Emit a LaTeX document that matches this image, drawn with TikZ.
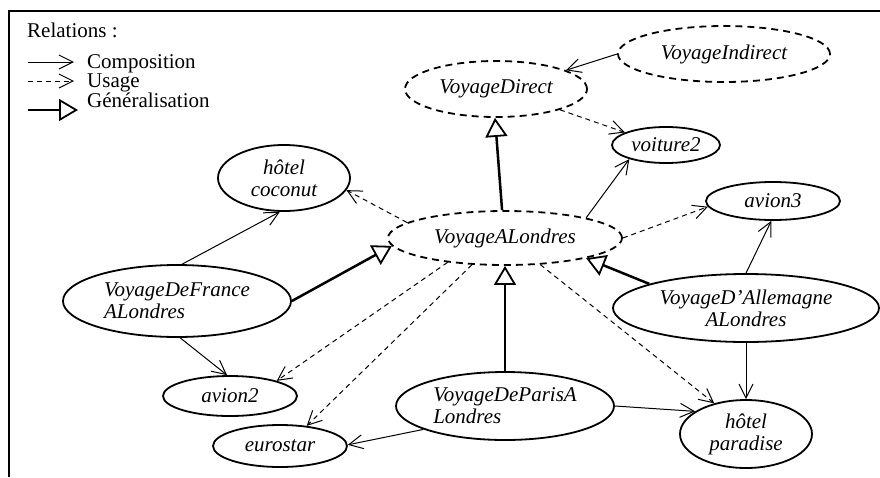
\documentclass[tikz,border=0pt]{standalone}
\usepackage{fontspec}
\setmainfont{Liberation Serif}
\usetikzlibrary{shapes.geometric,arrows.meta}

\begin{document}
\begin{tikzpicture}[x=1pt,y=-1pt,
  font=\fontsize{21}{22}\selectfont,
  obj/.style={ellipse,draw,line width=1.8pt,inner sep=0pt,font=\fontsize{21}{22}\selectfont\itshape},
  abs/.style={obj,dash pattern=on 7pt off 5pt},
  lbl/.style={anchor=base west,inner sep=0pt},
  compo/.style={line width=1pt,-{Straight Barb[length=14pt,width=14pt]}},
  usage/.style={compo,dash pattern=on 5pt off 4pt},
  gene/.style={line width=2.5pt,-{Triangle[open,length=19pt,width=22pt,line width=1.8pt]}}]
\useasboundingbox (0,0) rectangle (880,477);
\draw[line width=1.4pt] (9,477) -- (9,11) -- (880,11);

% legende
\node[lbl] (rel) at (27,37) {Relations :};
\coordinate (c1) at (28,62); \coordinate (c2) at (74,62);
\coordinate (u1) at (28,81); \coordinate (u2) at (74,81);
\coordinate (g1) at (28,110); \coordinate (g2) at (78,110);
\draw[compo] (c1) -- (c2); \draw[usage] (u1) -- (u2); \draw[gene] (g1) -- (g2);
\node[lbl] (lc) at (87,68) {Composition};
\node[lbl] (lu) at (87,87) {Usage};
\node[lbl] (lg) at (87,107) {Généralisation};

% objets
\node[abs,minimum width=212pt,minimum height=56pt] (indirect) at (724,54) {VoyageIndirect};
\node[abs,minimum width=182pt,minimum height=56pt] (direct) at (496,89) {VoyageDirect};
\node[abs,minimum width=234pt,minimum height=54pt] (londres) at (505,238) {VoyageALondres};
\node[obj,minimum width=108pt,minimum height=36pt] (voiture) at (666,145) {voiture2};
\node[obj,minimum width=134pt,minimum height=38pt] (avion3) at (773,201) {avion3};
\node[obj,minimum width=132pt,minimum height=66pt,align=center] (coconut) at (284,178) {hôtel\\coconut};
\node[obj,minimum width=228pt,minimum height=72pt,align=left] (france) at (177,301) {VoyageDeFrance\\ALondres};
\node[obj,minimum width=266pt,minimum height=68pt,align=center] (allemagne) at (746,308) {VoyageD’Allemagne\\ALondres};
\node[obj,minimum width=134pt,minimum height=40pt] (avion2) at (230,396) {avion2};
\node[obj,minimum width=134pt,minimum height=42pt] (eurostar) at (280,446) {eurostar};
\node[obj,minimum width=218pt,minimum height=68pt,align=left] (paris) at (505,406) {VoyageDeParisA\\Londres};
\node[obj,minimum width=132pt,minimum height=68pt,align=center] (paradise) at (746,434) {hôtel\\paradise};

% relations
\draw[compo] (indirect.180) -- (direct.15);
\draw[usage] (direct.342) -- (voiture.163);
\draw[gene] (londres.96) -- (direct.268);
\draw[compo] (londres.14) -- (voiture.201);
\draw[usage] (londres.171) -- (coconut.349);
\draw[usage] (londres.0) -- (avion3.185);
\draw[usage] (londres.203) -- (avion2.18);
\draw[usage] (londres.219) -- (eurostar.37);
\draw[usage] (londres.323) -- (paradise.136);
\draw[compo] (france.82) -- (coconut.263);
\draw[compo] (france.275) -- (avion2.98);
\draw[gene] (france.0) -- (londres.184);
\draw[gene] (paris.north) -- (londres.south);
\draw[compo] (paris.196) -- (eurostar.1);
\draw[compo] (paris.0) -- (paradise.156);
\draw[gene] (allemagne.166) -- (londres.346);
\draw[compo] (allemagne.north) -- (avion3.265);
\draw[compo] (allemagne.south) -- (paradise.north);
\end{tikzpicture}
\end{document}
